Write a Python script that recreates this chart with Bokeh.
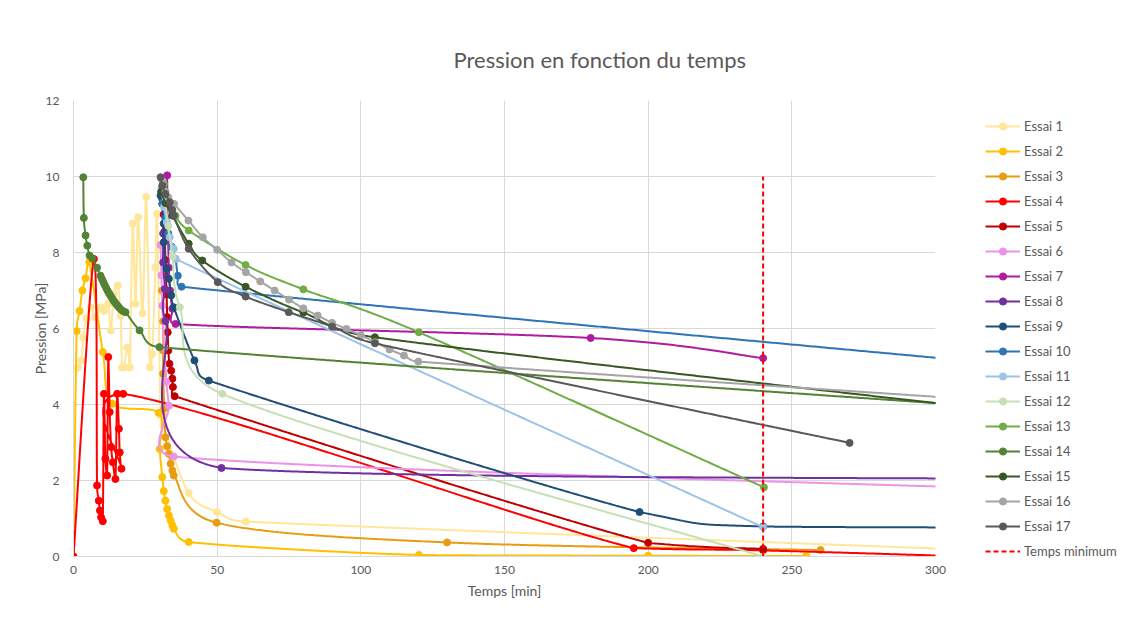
import numpy as np
from bokeh.plotting import figure
from bokeh.models import Range1d, SingleIntervalTicker, Legend, LegendItem
from bokeh.embed import file_html
from bokeh.resources import INLINE

# ---- measurements: time [min] / pressure [MPa] for each test run ----
x1 = [1.5, 2.7, 3.4, 4.5, 6.0, 7.4, 9.6, 10.6, 12.1, 13.0, 14.0, 15.4, 16.4, 16.9, 17.6, 18.7, 19.6,
      20.6, 21.6, 22.5, 24.0, 25.3, 26.6, 27.4, 28.5, 29.1, 30.3, 31.2, 40.1, 50.0, 60.0, 360]
y1 = [4.97, 5.16, 5.77, 6.26, 6.56, 6.3, 6.56, 6.46, 6.65, 5.95, 6.9, 7.13, 6.34, 4.98, 4.98, 5.5, 4.98,
      8.76, 6.65, 8.93, 6.4, 9.46, 4.98, 5.33, 7.61, 9.02, 3.71, 3.45, 1.67, 1.17, 0.92, 0.04]

x2 = [0, 1.1, 2.1, 3.1, 4.2, 5.5, 10.2, 13.5, 29.6, 30.0, 30.9, 31.4, 32.0, 32.6, 33.2, 33.8, 34.4, 34.9,
      40.1, 120.2, 200, 255]
y2 = [0, 5.93, 6.46, 7.0, 7.32, 7.75, 5.38, 4.02, 3.78, 2.83, 2.09, 1.72, 1.47, 1.25, 1.08, 0.95, 0.82, 0.73,
      0.38, 0.04, 0.02, 0.01]

x3 = [30.8, 31.2, 31.2, 31.2, 31.6, 32.0, 32.6, 33.2, 33.8, 34.4, 34.9, 49.8, 130, 260]
y3 = [7.0, 6.19, 5.42, 4.81, 3.9, 3.14, 2.9, 2.7, 2.44, 2.26, 2.13, 0.89, 0.37, 0.17]

x4 = [0, 7.1, 8.2, 8.8, 9.2, 9.6, 10.2, 10.6, 11.1, 11.7, 12.1, 12.6, 13.1, 13.7, 14.6, 15.2, 15.8, 16.1,
      16.7, 17.3, 195, 240, 320]
y4 = [0, 7.83, 1.87, 1.47, 1.21, 1.03, 0.93, 4.28, 2.57, 2.13, 5.25, 3.8, 2.88, 2.48, 2.04, 4.28, 3.36, 2.74,
      2.31, 4.28, 0.22, 0.16, -0.02]

x5 = [31.0, 31.4, 31.7, 32.0, 32.4, 32.6, 32.8, 33.0, 33.4, 34.0, 34.4, 34.6, 35.2, 200, 240]
y5 = [9.6, 9.0, 8.55, 7.8, 6.9, 6.3, 5.9, 5.42, 5.07, 4.89, 4.68, 4.46, 4.22, 0.36, 0.2]

x6 = [30.3, 30.6, 30.9, 31.6, 32.3, 33.2, 34.9, 360]
y6 = [8.2, 7.4, 6.6, 5.5, 4.6, 3.97, 2.63, 1.7]

x7 = [32.6, 32.7, 32.9, 33.2, 33.6, 34.4, 35.5, 180, 240]
y7 = [10.03, 9.2, 8.4, 7.6, 7.0, 6.52, 6.12, 5.75, 5.22]

x8 = [30.9, 31.2, 31.2, 31.8, 32.0, 51.5, 360]
y8 = [9.4, 8.5, 7.74, 7.04, 6.2, 2.33, 2.03]

x9 = [30.3, 30.9, 31.4, 31.4, 32.4, 33.2, 34.0, 34.9, 42.1, 47.1, 197, 240, 360]
y9 = [9.5, 9.28, 8.76, 8.27, 7.57, 7.31, 6.87, 6.56, 5.16, 4.63, 1.17, 0.79, 0.76]

x10 = [31.0, 32.0, 33.0, 34.2, 35.5, 36.3, 37.6, 360]
y10 = [9.3, 8.9, 8.5, 8.15, 7.83, 7.39, 7.1, 4.81]

x11 = [30.6, 31.5, 32.5, 33.5, 34.9, 35.5, 240]
y11 = [9.7, 9.2, 8.8, 8.4, 8.1, 7.83, 0.77]

x12 = [31.5, 33.0, 34.5, 37.0, 51.8, 240]
y12 = [9.6, 8.7, 7.9, 6.56, 4.28, 0.0]

x13 = [31.5, 33.0, 35.5, 40.1, 59.9, 80, 120.2, 240.3]
y13 = [9.8, 9.4, 8.97, 8.58, 7.67, 7.03, 5.9, 1.82]

x14 = [3.4, 3.6, 4.2, 4.8, 5.6, 6.5, 8.2, 9.4, 9.9, 10.4, 10.9, 11.4, 11.9, 12.4, 12.9, 13.4, 13.9, 14.4,
       14.9, 15.4, 15.9, 16.5, 17.2, 18.1, 23.0, 29.9, 360]
y14 = [9.98, 8.91, 8.45, 8.18, 7.92, 7.85, 7.6, 7.39, 7.3, 7.22, 7.14, 7.06, 6.99, 6.92, 6.86, 6.8, 6.74, 6.69,
       6.64, 6.59, 6.55, 6.5, 6.46, 6.43, 5.95, 5.51, 3.72]

x15 = [30.5, 32.0, 34.4, 40.1, 44.8, 59.9, 80, 104.9, 360]
y15 = [9.6, 9.3, 8.97, 8.23, 7.79, 7.1, 6.42, 5.77, 3.52]

x16 = [30.8, 32.0, 33.0, 35, 40, 45, 50, 55, 60, 65, 70, 75, 80, 85, 90, 95, 100, 105, 110, 115, 120, 360]
y16 = [9.9, 9.6, 9.45, 9.28, 8.84, 8.4, 8.07, 7.74, 7.48, 7.24, 7.0, 6.76, 6.53, 6.34, 6.15, 5.99, 5.82,
       5.64, 5.45, 5.29, 5.13, 3.9]

x17 = [30.3, 30.9, 32.0, 33.5, 34.4, 34.9, 40.1, 50.2, 59.9, 74.9, 90, 104.9, 270.1]
y17 = [9.98, 9.76, 9.54, 9.32, 9.12, 8.97, 8.1, 7.22, 6.84, 6.43, 6.05, 5.61, 2.99]

labels = ["Essai %d" % i for i in range(1, 18)]

# minimum test duration
t_min_x = [240, 240]
t_min_y = [0, 10]
t_min_label = "Temps minimum"

colors = ["#FFE699", "#FFC000", "#E89C12", "#FF0000", "#C00000", "#EE92E6", "#B01BA0", "#7030A0",
          "#1F4E79", "#2E75B6", "#9DC3E6", "#C5E0B4", "#70AD47", "#548235", "#385723", "#A5A5A5",
          "#595959"]

# ---- plot geometry ----
FRAME_W, FRAME_H = 862, 456
X_MAX, Y_MAX = 300, 12
SX, SY = FRAME_W / X_MAX, FRAME_H / Y_MAX


def smooth_curve(xs, ys, tension=1 / 6, cap=0.6):
    """Bezier smoothing through the points, computed in screen space.
    Control points never leave the vertical span of their segment."""
    P = np.column_stack([np.asarray(xs, float) * SX, np.asarray(ys, float) * SY])
    n = len(P)
    out = [P[:1]]
    for i in range(n - 1):
        p0 = P[i - 1] if i > 0 else P[i]
        p1, p2 = P[i], P[i + 1]
        p3 = P[i + 2] if i + 2 < n else P[i + 1]
        d12 = float(np.hypot(*(p2 - p1)))
        h1 = (p2 - p0) * tension
        h2 = (p3 - p1) * tension
        lim = cap * d12
        for h in (h1, h2):
            L = float(np.hypot(*h))
            if L > lim and L > 0:
                h *= lim / L
        c1, c2 = p1 + h1, p2 - h2
        lo, hi = min(p1[1], p2[1]), max(p1[1], p2[1])
        c1[1] = min(max(c1[1], lo), hi)
        c2[1] = min(max(c2[1], lo), hi)
        m = max(8, int(d12 / 2))
        t = np.linspace(0, 1, m + 1)[1:, None]
        seg = (1 - t) ** 3 * p1 + 3 * (1 - t) ** 2 * t * c1 + 3 * (1 - t) * t ** 2 * c2 + t ** 3 * p2
        out.append(seg)
    Q = np.vstack(out)
    return Q[:, 0] / SX, Q[:, 1] / SY


FONT = "Lato"
GREY_TXT = "#595959"
GRID = "#D9D9D9"

p = figure(frame_width=FRAME_W, frame_height=FRAME_H,
           min_border_left=73, min_border_right=190, min_border_top=100, min_border_bottom=68,
           x_range=Range1d(0, X_MAX), y_range=Range1d(0, Y_MAX),
           output_backend="svg", toolbar_location=None,
           title="Pression en fonction du temps")
p.outline_line_color = None
p.background_fill_color = "white"
p.border_fill_color = "white"

p.title.align = "left"
p.title.offset = 380
p.title.standoff = 55
p.title.text_font = FONT
p.title.text_font_style = "normal"
p.title.text_font_size = "22px"
p.title.text_color = GREY_TXT

p.xaxis.ticker = SingleIntervalTicker(interval=50)
p.yaxis.ticker = SingleIntervalTicker(interval=2)
p.xaxis.axis_label = "Temps [min]"
p.yaxis.axis_label = "Pression [MPa]"
for ax in (p.xaxis, p.yaxis):
    ax.axis_line_color = GRID
    ax.major_tick_line_color = None
    ax.minor_tick_line_color = None
    ax.major_label_text_font = FONT
    ax.major_label_text_font_size = "12px"
    ax.major_label_text_color = GREY_TXT
    ax.axis_label_text_font = FONT
    ax.axis_label_text_font_size = "14px"
    ax.axis_label_text_font_style = "normal"
    ax.axis_label_text_color = GREY_TXT
p.xaxis.major_label_standoff = 3
p.yaxis.major_label_standoff = 8
p.xaxis.axis_label_standoff = 5
p.yaxis.axis_label_standoff = -6
p.grid.grid_line_color = GRID
p.grid.grid_line_width = 1

xs_all = [x1, x2, x3, x4, x5, x6, x7, x8, x9, x10, x11, x12, x13, x14, x15, x16, x17]
ys_all = [y1, y2, y3, y4, y5, y6, y7, y8, y9, y10, y11, y12, y13, y14, y15, y16, y17]

items = []
for xs, ys, name, col in zip(xs_all, ys_all, labels, colors):
    cx, cy = smooth_curve(xs, ys)
    lr = p.line(cx, cy, line_color=col, line_width=2)
    mr = p.scatter(xs, ys, size=7, fill_color=col, line_color=col)
    items.append(LegendItem(label=name, renderers=[lr, mr]))

dr = p.line(t_min_x, t_min_y, line_color="#FF0000", line_width=2, line_dash="5 3")
items.append(LegendItem(label=t_min_label, renderers=[dr]))

legend = Legend(items=items, location=(50, -4))
legend.border_line_color = None
legend.background_fill_alpha = 0
legend.padding = 0
legend.margin = 0
legend.spacing = 7
legend.glyph_width = 35
legend.glyph_height = 18
legend.label_height = 18
legend.label_standoff = 4
legend.label_text_font = FONT
legend.label_text_font_size = "13px"
legend.label_text_color = GREY_TXT
p.add_layout(legend, "right")

open("out.html", "w").write(file_html(p, INLINE))
